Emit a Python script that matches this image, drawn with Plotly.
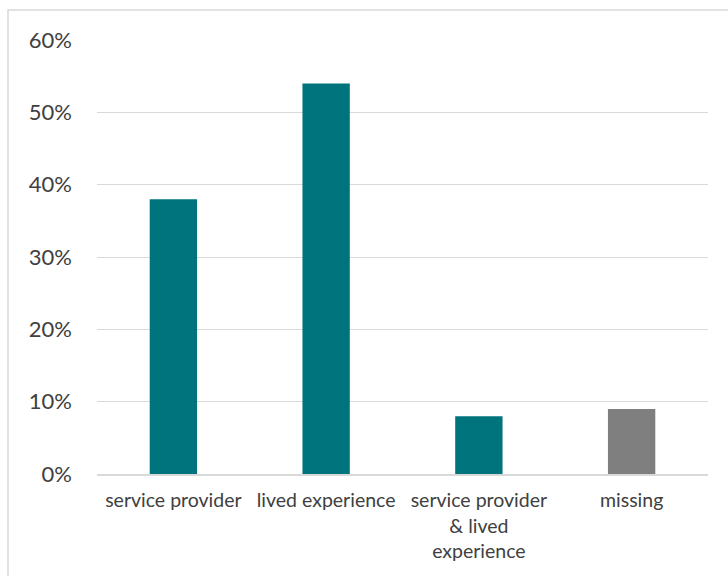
import plotly.graph_objects as go

categories = ["service provider", "lived experience", "service provider<br>& lived<br>experience", "missing"]
values = [0.38, 0.54, 0.08, 0.09]
colors = ["#00747C", "#00747C", "#00747C", "#7F7F7F"]
tick_vals = [0, 0.1, 0.2, 0.3, 0.4, 0.5, 0.6]
tick_text = ["0%", "10%", "20%", "30%", "40%", "50%", "60%"]

fig = go.Figure(go.Bar(x=categories, y=values, marker=dict(color=colors, line=dict(width=0)),
                       width=0.31, hoverinfo="skip"))

W, H = 728, 576
ml, mr, mt, mb = 97, 20, 40, 102
pw, ph = W - ml - mr, H - mt - mb

fig.update_layout(
    width=W, height=H,
    margin=dict(l=ml, r=mr, t=mt, b=mb),
    paper_bgcolor="white", plot_bgcolor="white",
    font=dict(family="Lato, Carlito, sans-serif", color="#404040"),
    showlegend=False,
    xaxis=dict(showgrid=False, showline=True, linecolor="#D9D9D9", linewidth=1.5,
               tickfont=dict(size=19.5, color="#404040"), ticks="", ticklabelstandoff=8),
    yaxis=dict(range=[0, 0.6], tickvals=tick_vals, ticktext=tick_text, showgrid=True,
               gridcolor="#D9D9D9", gridwidth=1, zeroline=False, showline=False,
               tickfont=dict(size=22, color="#404040"), ticks="", ticklabelstandoff=24),
    shapes=[dict(type="rect", xref="paper", yref="paper",
                 x0=(8 - ml) / pw, x1=1.2, y0=-0.5, y1=1 + (mt - 10) / ph,
                 line=dict(color="#D9D9D9", width=1.5), fillcolor="rgba(0,0,0,0)", layer="below")],
)

fig.write_html("out.html")
